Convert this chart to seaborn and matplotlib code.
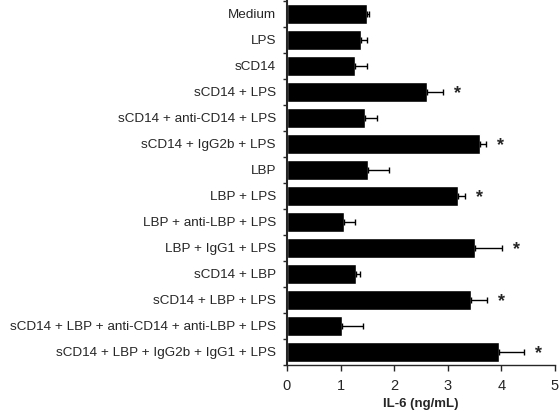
import matplotlib
matplotlib.use("Agg")
from matplotlib import pyplot as plt
import seaborn as sns
import pandas as pd
import numpy as np

groups = ["Medium", "LPS", "sCD14", "sCD14 + LPS", "sCD14 + anti-CD14 + LPS",
          "sCD14 + IgG2b + LPS", "LBP", "LBP + LPS", "LBP + anti-LBP + LPS",
          "LBP + IgG1 + LPS", "sCD14 + LBP", "sCD14 + LBP + LPS",
          "sCD14 + LBP + anti-CD14 + anti-LBP + LPS",
          "sCD14 + LBP + IgG2b + IgG1 + LPS"]
il6 = [1.50, 1.39, 1.27, 2.61, 1.45, 3.61, 1.51, 3.19, 1.06, 3.50, 1.29, 3.43, 1.02, 3.96]
err = [0.03, 0.11, 0.23, 0.31, 0.23, 0.10, 0.39, 0.14, 0.21, 0.52, 0.08, 0.31, 0.40, 0.46]
signif = [False, False, False, True, False, True, False, True, False, True, False, True, False, True]

df = pd.DataFrame({"group": groups, "il6": il6, "err": err, "sig": signif})

sns.set_style("ticks")
plt.rcParams["font.family"] = ["Liberation Sans", "DejaVu Sans"]

fig = plt.figure(figsize=(5.59, 4.17), dpi=100)
ax = fig.add_axes([0.5134, 0.1247, 0.4794, 0.873])

sns.barplot(data=df, x="il6", y="group", color="black", saturation=1,
            width=0.8, errorbar=None, ax=ax, orient="h")
pos = np.arange(len(groups))
ax.errorbar(df["il6"], pos, xerr=[np.zeros(len(df)), df["err"]], fmt="none",
            ecolor="black", elinewidth=1, capsize=2.5, capthick=1)

# significance stars
for p, v, e, s in zip(pos, df["il6"], df["err"], df["sig"]):
    if s:
        ax.text(v + e + 0.27, p + 0.08, "*", ha="center", va="center",
                fontsize=13, fontweight="bold")

ax.set_xlim(0, 5)
ax.set_ylim(len(groups) - 0.5, -0.5)
ax.set_xticks(range(6))
ax.set_yticks(pos)
ax.set_yticks(np.arange(-0.5, len(groups)), minor=True)
ax.tick_params(axis="y", which="major", length=0, pad=8, labelsize=9.7)
ax.tick_params(axis="y", which="minor", length=3, width=1, direction="out")
ax.tick_params(axis="x", length=4, width=1, labelsize=10.5, pad=6)
ax.set_ylabel("")
ax.set_xlabel("IL-6 (ng/mL)", fontsize=9.5, fontweight="bold", labelpad=4)
sns.despine(ax=ax)
ax.spines["left"].set_linewidth(1.5)
ax.spines["bottom"].set_linewidth(1)

fig.savefig("out.png", dpi=100)
